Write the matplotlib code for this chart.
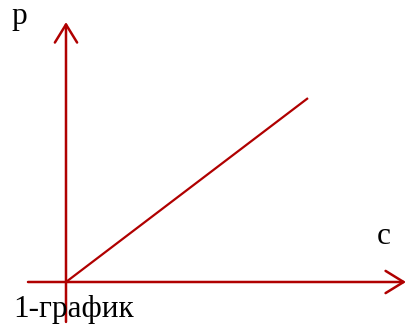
import matplotlib.pyplot as plt

# demand-style line in arbitrary units
c_vals = [0, 10]
p_vals = [0, 7.6]
axis_label_x = 'c'
axis_label_y = 'p'
caption = '1-график'

red = '#b00000'
plt.rcParams['font.family'] = ['Liberation Serif', 'DejaVu Serif']

fig = plt.figure(figsize=(4.11, 3.25), dpi=100)
ax = fig.add_axes([0, 0, 1, 1])
ax.set_xlim(-2.727, 14.256)
ax.set_ylim(-1.777, 11.653)
ax.set_axis_off()

arrow = dict(arrowstyle='->,head_length=0.65,head_width=0.4', lw=1.8,
             color=red, mutation_scale=20, shrinkA=0, shrinkB=0)
# axes with open arrowheads
ax.annotate('', xy=(14.05, 0), xytext=(-1.57, 0), arrowprops=arrow)
ax.annotate('', xy=(0, 10.74), xytext=(0, -1.65), arrowprops=arrow)

ax.plot(c_vals, p_vals, color=red, lw=1.6, solid_capstyle='butt')

fig.text(11 / 411, 1 - 24 / 325, axis_label_y, fontsize=22.5, va='baseline')
fig.text(377 / 411, 1 - 244 / 325, axis_label_x, fontsize=22.5, va='baseline')
fig.text(13 / 411, 1 - 317 / 325, caption, fontsize=22.5, va='baseline')

fig.savefig('out.png', dpi=100)
